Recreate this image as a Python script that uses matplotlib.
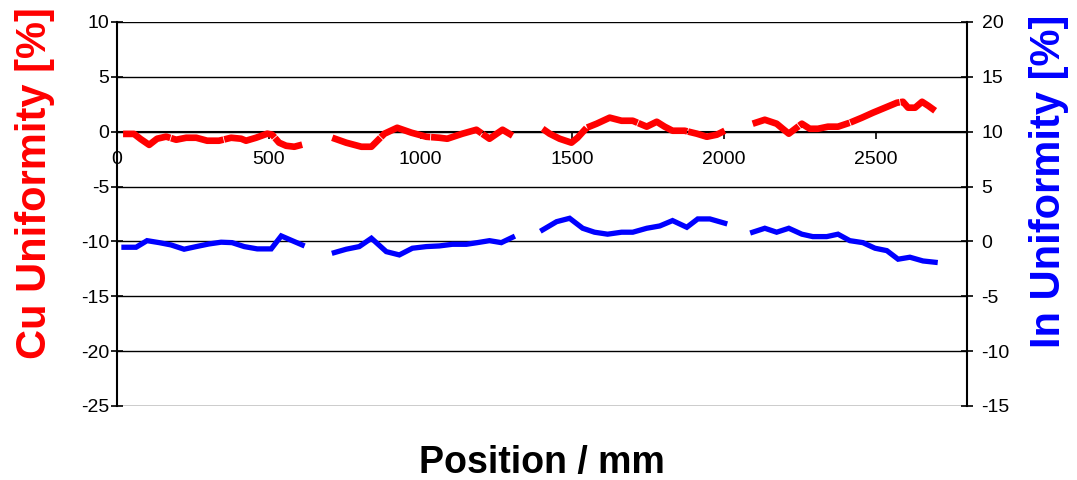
import numpy as np
import matplotlib

matplotlib.use("Agg")
import matplotlib.pyplot as plt

plt.rcParams["font.family"] = ["Liberation Sans", "DejaVu Sans"]
plt.rcParams["axes.unicode_minus"] = False

nan = np.nan

# Cu uniformity (left axis), gaps between scan segments
cu_x = [20, 56, 78, 106, 132, 162, 195, 228, 261, 297, 336, 376, 409, 425, 458, 495, 511, 534, 557, 584, 610,
        nan,
        709, 755, 805, 838, 881, 923, 970, 1019, 1062, 1088, 1138, 1184, 1227, 1270, 1303,
        nan,
        1402, 1425, 1458, 1497, 1517, 1547, 1580, 1623, 1662, 1699, 1745, 1778, 1804, 1830, 1870, 1910, 1943, 1976, 2002,
        nan,
        2094, 2134, 2173, 2193, 2213, 2256, 2282, 2309, 2342, 2375, 2414, 2454, 2490, 2530, 2569, 2589, 2606, 2629, 2652,
        2672, 2695]
cu_y = [-0.2, -0.2, -0.67, -1.2, -0.64, -0.45, -0.73, -0.55, -0.55, -0.82, -0.82, -0.55, -0.64, -0.82, -0.55, -0.18,
        -0.27, -1.0, -1.28, -1.37, -1.18,
        nan,
        -0.55, -1.0, -1.37, -1.37, -0.18, 0.36, -0.09, -0.46, -0.55, -0.64, -0.18, 0.18, -0.64, 0.18, -0.36,
        nan,
        0.27, -0.18, -0.64, -1.0, -0.55, 0.36, 0.73, 1.28, 1.0, 1.0, 0.46, 0.91, 0.46, 0.09, 0.09, -0.18, -0.46, -0.27, 0.09,
        nan,
        0.73, 1.09, 0.73, 0.27, -0.18, 0.73, 0.27, 0.27, 0.46, 0.46, 0.82, 1.28, 1.73, 2.19, 2.64, 2.73, 2.19, 2.19, 2.73,
        2.37, 1.91]

# In uniformity (right axis)
in_x = [23, 63, 99, 139, 178, 221, 261, 303, 343, 379, 419, 462, 508, 541, 577, 610,
        nan,
        716, 755, 798, 838, 887, 930, 973, 1019, 1062, 1105, 1151, 1187, 1227, 1266, 1303,
        nan,
        1402, 1448, 1491, 1534, 1573, 1616, 1662, 1699, 1745, 1788, 1830, 1877, 1913, 1953, 2002,
        nan,
        2094, 2134, 2173, 2213, 2256, 2292, 2338, 2375, 2414, 2457, 2497, 2536, 2573, 2612, 2655, 2695]
in_y = [-0.53, -0.53, 0.07, -0.11, -0.32, -0.71, -0.47, -0.23, -0.07, -0.11, -0.47, -0.68, -0.68, 0.5, 0.07, -0.32,
        nan,
        -1.02, -0.71, -0.47, 0.29, -0.93, -1.23, -0.62, -0.47, -0.41, -0.26, -0.26, -0.11, 0.07, -0.11, 0.38,
        nan,
        1.05, 1.8, 2.11, 1.2, 0.84, 0.66, 0.84, 0.84, 1.2, 1.41, 1.9, 1.29, 2.05, 2.05, 1.66,
        nan,
        0.84, 1.2, 0.84, 1.2, 0.66, 0.44, 0.44, 0.66, 0.07, -0.11, -0.62, -0.84, -1.62, -1.44, -1.78, -1.9]

x_ticks = [0, 500, 1000, 1500, 2000, 2500]
left_ticks = list(range(-25, 11, 5))
right_ticks = list(range(-15, 21, 5))

fig = plt.figure(figsize=(10.77, 4.8), dpi=100)
ax = fig.add_axes([117 / 1077, 1 - 406 / 480, 850 / 1077, 384 / 480])

ax.set_xlim(0, 2800)
ax.set_ylim(-25, 10)
ax.set_yticks(left_ticks)
ax.set_xticks(x_ticks)
for t in left_ticks:
    ax.axhline(t, color="black", lw=1.0, zorder=1)

ax.spines["top"].set_visible(False)
ax.spines["right"].set_visible(False)
ax.spines["bottom"].set_position(("data", 0))
ax.spines["bottom"].set_linewidth(1.5)
ax.spines["left"].set_linewidth(1.5)
ax.tick_params(axis="y", direction="inout", length=9, width=1.2, labelsize=14, pad=1)
ax.tick_params(axis="x", direction="out", length=5, width=1.2, labelsize=14, pad=9)

# thick red line with the faint breaks seen in the original
ax.plot(cu_x, cu_y, color="#ff0000", lw=4.8, dashes=(8, 0.12), solid_joinstyle="round", zorder=3)

ax2 = ax.twinx()
ax2.set_position(ax.get_position())
ax2.set_ylim(-15, 20)
ax2.set_yticks(right_ticks)
for s in ["top", "bottom", "left"]:
    ax2.spines[s].set_visible(False)
ax2.spines["right"].set_linewidth(1.5)
ax2.tick_params(axis="y", direction="inout", length=9, width=1.2, labelsize=14, pad=6)
ax2.plot(in_x, in_y, color="#0000ff", lw=3.8, solid_joinstyle="miter", zorder=3)

fig.text(35 / 1077, 1 - 183 / 480, "Cu Uniformity [%]", color="#ff0000", fontsize=30,
         fontweight="bold", rotation=90, ha="center", va="center")
fig.text(1049 / 1077, 1 - 181 / 480, "In Uniformity [%]", color="#0000ff", fontsize=30,
         fontweight="bold", rotation=90, ha="center", va="center")
fig.text(542 / 1077, 1 - 463 / 480, "Position / mm", color="black", fontsize=27,
         fontweight="bold", ha="center", va="center")

fig.savefig("out.png", dpi=100)
